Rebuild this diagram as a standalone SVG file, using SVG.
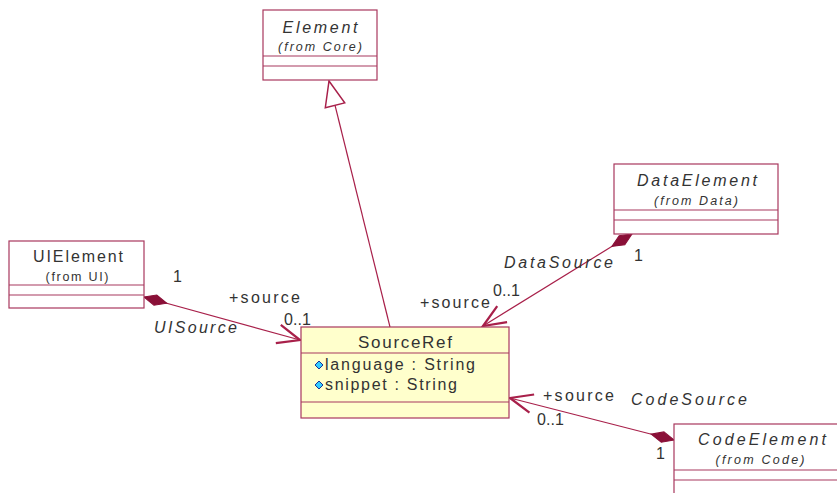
<svg xmlns="http://www.w3.org/2000/svg" width="837" height="493" viewBox="0 0 837 493">
<style>
.box{fill:#fff;stroke:#a8385e;stroke-width:1.2}
.cls{fill:#ffffcc}
.sep{stroke:#a8385e;stroke-width:1.2}
.t{font-family:"Liberation Sans",Arial,sans-serif;fill:#333;font-size:16px}
.it{font-style:italic}
.sm{font-size:12.5px}
.c{text-anchor:middle}
.ln{fill:none;stroke:#a8204a;stroke-width:1.2}
</style>
<defs>
<marker id="dia" markerUnits="userSpaceOnUse" markerWidth="30" markerHeight="30" refX="0" refY="0" viewBox="-2 -8 28 16" orient="auto"><path d="M0,0 L11,-5 L22,0 L11,5 Z" fill="#8a1038" stroke="#8a1038"/></marker>
<marker id="arr" markerUnits="userSpaceOnUse" markerWidth="30" markerHeight="30" refX="0" refY="0" viewBox="-14 -8 16 16" orient="auto"><path d="M-12,-5 L0,0 L-12,5" fill="none" stroke="#a8204a" stroke-width="1.2"/></marker>
<marker id="tri" markerUnits="userSpaceOnUse" markerWidth="30" markerHeight="30" refX="0" refY="0" viewBox="-22 -10 24 20" orient="auto"><path d="M0,0 L-20,-8 L-20,8 Z" fill="#fff" stroke="#a8204a" stroke-width="1.2"/></marker>
<path id="attr" d="M0,0 L4,-4 L8,0 L4,4 Z"/>
</defs>
<g id="connectors">
<path class="ln" d="M390,327 L329,81" marker-end="url(#tri)"/>
<path class="ln" d="M144,297 L300,340" marker-start="url(#dia)" marker-end="url(#arr)"/>
<path class="ln" d="M632,234 L483,326" marker-start="url(#dia)" marker-end="url(#arr)"/>
<path class="ln" d="M674,440 L510,398" marker-start="url(#dia)" marker-end="url(#arr)"/>
<text class="t" x="173" y="282">1</text>
<text class="t" x="229" y="303" textLength="71" lengthAdjust="spacing">+source</text>
<text class="t" x="284" y="325" textLength="27" lengthAdjust="spacing">0..1</text>
<text class="t it" x="154" y="333" textLength="83" lengthAdjust="spacing">UISource</text>
<text class="t it" x="504" y="268" textLength="109" lengthAdjust="spacing">DataSource</text>
<text class="t" x="634" y="261">1</text>
<text class="t" x="493" y="296" textLength="27" lengthAdjust="spacing">0..1</text>
<text class="t" x="420" y="308" textLength="70" lengthAdjust="spacing">+source</text>
<text class="t" x="543" y="401" textLength="71" lengthAdjust="spacing">+source</text>
<text class="t it" x="631" y="405" textLength="116" lengthAdjust="spacing">CodeSource</text>
<text class="t" x="537" y="425" textLength="27" lengthAdjust="spacing">0..1</text>
<text class="t" x="656" y="459">1</text>
</g>
<g id="Element">
<rect class="box" x="263" y="10" width="114" height="70"/>
<line class="sep" x1="263" y1="56" x2="377" y2="56"/>
<line class="sep" x1="263" y1="66" x2="377" y2="66"/>
<text class="t it c" x="320" y="33" textLength="75" lengthAdjust="spacing">Element</text>
<text class="t it c sm" x="320" y="51" textLength="84" lengthAdjust="spacing">(from Core)</text>
</g>
<g id="DataElement">
<rect class="box" x="614" y="164" width="164" height="70"/>
<line class="sep" x1="614" y1="210" x2="778" y2="210"/>
<line class="sep" x1="614" y1="220" x2="778" y2="220"/>
<text class="t it c" x="697" y="186" textLength="120" lengthAdjust="spacing">DataElement</text>
<text class="t it c sm" x="696" y="205" textLength="84" lengthAdjust="spacing">(from Data)</text>
</g>
<g id="UIElement">
<rect class="box" x="9" y="241" width="135" height="67"/>
<line class="sep" x1="9" y1="285" x2="144" y2="285"/>
<line class="sep" x1="9" y1="295" x2="144" y2="295"/>
<text class="t c" x="78" y="262" textLength="90" lengthAdjust="spacing">UIElement</text>
<text class="t c sm" x="77" y="281" textLength="63" lengthAdjust="spacing">(from UI)</text>
</g>
<g id="SourceRef">
<rect class="box cls" x="301" y="327" width="208" height="91"/>
<line class="sep" x1="301" y1="353" x2="509" y2="353"/>
<line class="sep" x1="301" y1="402" x2="509" y2="402"/>
<text class="t c" x="405" y="348" style="font-size:17px" textLength="94" lengthAdjust="spacing">SourceRef</text>
<use href="#attr" x="315" y="365" fill="#33ccff" stroke="#1a3399" stroke-width="1"/>
<text class="t" x="325" y="370" textLength="150" lengthAdjust="spacing">language : String</text>
<use href="#attr" x="315" y="385" fill="#33ccff" stroke="#1a3399" stroke-width="1"/>
<text class="t" x="325" y="390" textLength="132" lengthAdjust="spacing">snippet : String</text>
</g>
<g id="CodeElement">
<rect class="box" x="674" y="424" width="170" height="80"/>
<line class="sep" x1="674" y1="470" x2="837" y2="470"/>
<line class="sep" x1="674" y1="480" x2="837" y2="480"/>
<text class="t it c" x="762" y="445" textLength="128" lengthAdjust="spacing">CodeElement</text>
<text class="t it c sm" x="760" y="464" textLength="89" lengthAdjust="spacing">(from Code)</text>
</g>
</svg>
